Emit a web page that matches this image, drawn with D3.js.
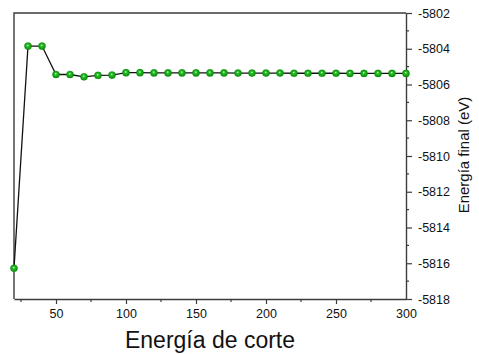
<!DOCTYPE html>
<html>
<head>
<meta charset="utf-8">
<script src="https://cdn.jsdelivr.net/npm/d3@7"></script>
<style>
  html, body { margin: 0; padding: 0; background: #fff; }
  svg { display: block; font-family: "Liberation Sans", Arial, sans-serif; }
</style>
</head>
<body>
<div id="graph"></div>
<script>
// cut-off energy vs final energy
const cutoff = [20, 30, 40, 50, 60, 70, 80, 90, 100, 110, 120, 130, 140, 150, 160, 170, 180, 190, 200, 210, 220, 230, 240, 250, 260, 270, 280, 290, 300];
const energy = [-5816.28, -5803.85, -5803.85, -5805.44, -5805.44, -5805.57, -5805.49, -5805.47, -5805.34, -5805.34,
    -5805.35, -5805.35, -5805.35, -5805.35, -5805.35, -5805.35, -5805.36, -5805.36, -5805.36, -5805.36,
    -5805.37, -5805.37, -5805.37, -5805.37, -5805.38, -5805.38, -5805.38, -5805.38, -5805.38];
const xTicks = [50, 100, 150, 200, 250, 300];
const xMinor = [25, 75, 125, 175, 225, 275];
const yTicks = [-5818, -5816, -5814, -5812, -5810, -5808, -5806, -5804, -5802];
const yMinor = [-5817, -5815, -5813, -5811, -5809, -5807, -5805, -5803];

const W = 479, H = 354;
const plot = { left: 14, right: 406, top: 13, bottom: 299 };

const svg = d3.select("#graph").append("svg")
    .attr("width", W)
    .attr("height", H);

const defs = svg.append("defs");
const grad = defs.append("radialGradient")
    .attr("id", "ball")
    .attr("cx", "50%").attr("cy", "50%").attr("r", "55%")
    .attr("fx", "45%").attr("fy", "38%");
grad.append("stop").attr("offset", "0%").attr("stop-color", "#f0fff0");
grad.append("stop").attr("offset", "28%").attr("stop-color", "#2fc02f");
grad.append("stop").attr("offset", "100%").attr("stop-color", "#008a00");

const x = d3.scaleLinear().domain([20, 300]).range([plot.left, plot.right]);
const y = d3.scaleLinear().domain([-5818, -5802]).range([plot.bottom, plot.top]);

const axisColor = "#3c3c3c";

// frame (top and left)
svg.append("path")
    .attr("d", `M${plot.left},${plot.bottom}V${plot.top}H${plot.right}`)
    .attr("fill", "none")
    .attr("stroke", axisColor)
    .attr("stroke-width", 1.4);

// bottom axis
const gx = svg.append("g")
    .attr("transform", `translate(0,${plot.bottom})`)
    .call(d3.axisBottom(x).tickValues(xTicks).tickSize(5).tickPadding(5).tickSizeOuter(0));
gx.selectAll(".tick").filter(d => d === 300).select("line").remove();
gx.selectAll(".minor").data(xMinor).enter().append("line")
    .attr("class", "minor")
    .attr("x1", d => x(d)).attr("x2", d => x(d))
    .attr("y1", 0).attr("y2", 3);

// right axis
const gy = svg.append("g")
    .attr("transform", `translate(${plot.right},0)`)
    .call(d3.axisRight(y).tickValues(yTicks).tickSize(6).tickPadding(6).tickSizeOuter(0)
        .tickFormat(d3.format("d")));
gy.selectAll(".minor").data(yMinor).enter().append("line")
    .attr("class", "minor")
    .attr("y1", d => y(d)).attr("y2", d => y(d))
    .attr("x1", 0).attr("x2", 3);

[gx, gy].forEach(g => {
    g.select(".domain").attr("stroke", axisColor).attr("stroke-width", 1.4);
    g.selectAll("line").attr("stroke", axisColor).attr("stroke-width", 1.2);
    g.selectAll("text")
        .attr("fill", "#111")
        .style("font-size", "12.5px")
        .style("font-family", "'Liberation Sans', Arial, sans-serif");
});
gy.selectAll(".tick text").text(d => "-" + Math.abs(d));

// data line
const pts = cutoff.map((c, i) => [c, energy[i]]);
svg.append("path")
    .datum(pts)
    .attr("fill", "none")
    .attr("stroke", "#111")
    .attr("stroke-width", 1.3)
    .attr("d", d3.line().x(d => x(d[0])).y(d => y(d[1])));

svg.selectAll(".pt")
    .data(pts)
    .enter().append("circle")
    .attr("class", "pt")
    .attr("cx", d => x(d[0]))
    .attr("cy", d => y(d[1]))
    .attr("r", 3.6)
    .attr("fill", "url(#ball)")
    .attr("stroke", "#0a800a")
    .attr("stroke-width", 0.3);

// axis titles
svg.append("text")
    .attr("x", 210)
    .attr("y", 348)
    .attr("text-anchor", "middle")
    .style("font-size", "23px")
    .attr("fill", "#111")
    .text("Energía de corte");

svg.append("text")
    .attr("transform", "translate(469,155) rotate(-90)")
    .attr("text-anchor", "middle")
    .style("font-size", "15px")
    .attr("fill", "#111")
    .text("Energía final (eV)");
</script>
</body>
</html>
